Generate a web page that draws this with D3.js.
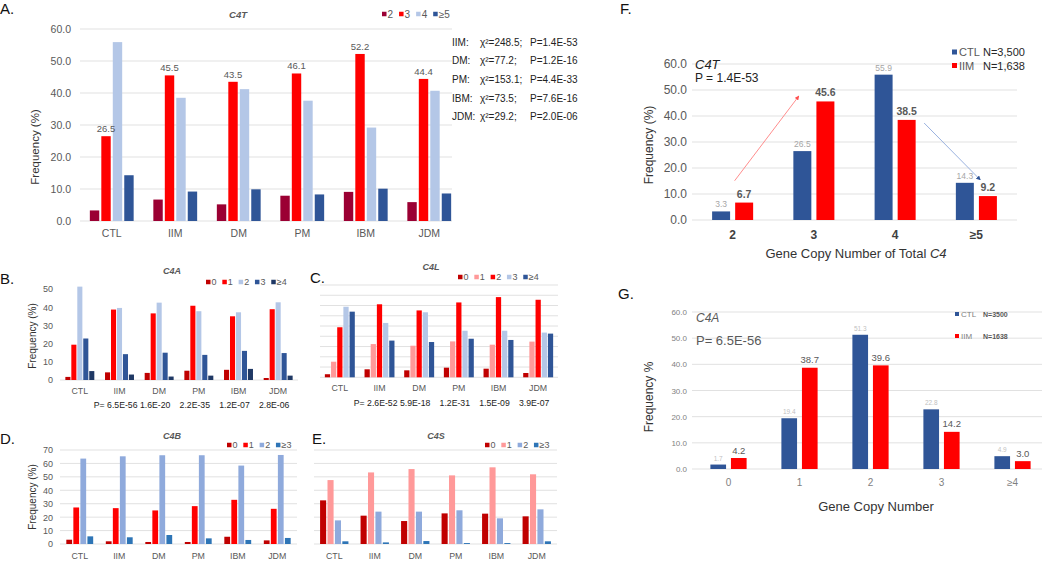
<!DOCTYPE html>
<html><head><meta charset="utf-8">
<script src="https://cdn.jsdelivr.net/npm/d3@7"></script>
<style>body{margin:0;background:#fff}svg{display:block}text{font-family:"Liberation Sans",Arial,sans-serif}</style>
</head><body><svg id="c" width="1050" height="561"></svg>
<script>
// ---------- DATA ----------
const groups = ["CTL","IIM","DM","PM","IBM","JDM"];
// A: C4T
const c4tKeys = ["2","3","4","≥5"];
const c4t2 = [3.3,6.7,5.2,7.9,9.1,5.9];
const c4t3 = [26.5,45.5,43.5,46.1,52.2,44.4];
const c4t4 = [55.9,38.5,41.2,37.6,29.2,40.7];
const c4t5 = [14.3,9.2,9.9,8.3,10.1,8.6];
const c4tTicks = [0,10,20,30,40,50,60];
const chiGroups = ["IIM","DM","PM","IBM","JDM"];
const chiValues = ["248.5","77.2","153.1","73.5","29.2"];
const chiP = ["1.4E-53","1.2E-16","4.4E-33","7.6E-16","2.0E-06"];
// B: C4A
const c4aKeys = ["0","1","2","3","≥4"];
const c4a0 = [1.7,4.2,3.9,5.1,5.6,1.1];
const c4a1 = [19.4,38.7,36.6,40.8,35.0,38.9];
const c4a2 = [51.3,39.6,42.5,37.8,37.2,42.7];
const c4a3 = [22.8,14.2,15.0,13.8,16.0,14.8];
const c4a4 = [4.9,3.0,1.9,2.4,6.1,2.4];
const c4aTicks = [0,10,20,30,40,50];
const c4aP = ["6.5E-56","1.6E-20","2.2E-35","1.2E-07","2.8E-06"];
// C: C4L
const c4lKeys = ["0","1","2","3","≥4"];
const c4l0 = [1.5,3.9,3.4,4.7,4.2,2.1];
const c4l1 = [7.6,16.2,15.4,17.5,15.9,17.4];
const c4l2 = [24.4,35.6,32.6,36.5,39.1,37.8];
const c4l3 = [34.4,26.5,31.7,22.7,22.7,21.8];
const c4l4 = [32.0,17.9,17.2,18.8,18.2,21.3];
const c4lGrid = [0,5,10,15,20,25,30,35,40,45];
const c4lP = ["2.6E-52","5.9E-18","1.2E-31","1.5E-09","3.9E-07"];
// D: C4B
const c4bKeys = ["0","1","2","≥3"];
const c4b0 = [3.2,2.0,1.5,1.5,5.4,2.7];
const c4b1 = [27.2,26.7,25.0,28.2,32.9,26.2];
const c4b2 = [63.6,65.3,66.1,66.1,58.4,66.3];
const c4b3 = [5.7,5.0,6.7,4.2,3.0,4.5];
const c4bTicks = [0,10,20,30,40,50,60,70];
// E: C4S
const c4sKeys = ["0","1","2","≥3"];
const c4s0 = [32.5,21.1,17.1,22.8,22.6,20.6];
const c4s1 = [47.6,53.3,55.8,51.1,57.1,51.9];
const c4s2 = [17.6,24.1,24.1,25.1,19.1,25.8];
const c4s3 = [2.0,1.2,2.2,0.7,0.7,2.0];
// F: total C4, CTL vs IIM
const fCats = ["2","3","4","≥5"];
const fSeries = ["CTL","IIM"];
const fCTL = [3.3,26.5,55.9,14.3];
const fIIM = [6.7,45.6,38.5,9.2];
const fTicks = [0,10,20,30,40,50,60];
// G: C4A, CTL vs IIM
const gCats = ["0","1","2","3","≥4"];
const gCTL = [1.7,19.4,51.3,22.8,4.9];
const gIIM = [4.2,38.7,39.6,14.2,3.0];
const gTicks = [0,10,20,30,40,50,60];

// ---------- DRAW ----------
const svg = d3.select("#c");
const ARIAL = '"Liberation Sans", Arial, sans-serif';
const LATO = 'Lato, "Open Sans", sans-serif';

function txt(x, y, s, o = {}) {
  const t = svg.append("text").attr("x", x).attr("y", y)
    .attr("font-size", o.fs || 10).attr("fill", o.fill || "#595959")
    .attr("font-family", o.font || ARIAL)
    .attr("text-anchor", o.anchor || "start")
    .attr("dominant-baseline", o.base || "central")
    .attr("font-weight", o.weight || "normal")
    .attr("font-style", o.style || "normal");
  if (o.rotate) t.attr("transform", `rotate(-90,${x},${y})`);
  t.text(s);
  return t;
}

function legend(x, y, labels, colors, o = {}) {
  let cx = x;
  const sq = o.sq || 4.5;
  labels.forEach((l, i) => {
    svg.append("rect").attr("x", cx).attr("y", y - sq / 2).attr("width", sq).attr("height", sq).attr("fill", colors[i]);
    const t = txt(cx + sq + (o.g1 || 1), y, l, { fs: o.fs || 10, fill: o.fill || "#595959", font: o.font });
    cx += sq + (o.g1 || 1) + t.node().getComputedTextLength() + (o.g2 || 6);
  });
}

function grouped(o) {
  const g = svg.append("g");
  const x0 = d3.scaleBand().domain(o.cats).range(o.xr).paddingInner(o.gp).paddingOuter(o.gp / 2);
  const x1 = d3.scaleBand().domain(o.keys).range([0, x0.bandwidth()]).paddingInner(o.bp);
  const y = d3.scaleLinear().domain(o.yd).range(o.yr);
  if (o.grid) {
    const gx = o.gx || o.xr;
    g.append("g").selectAll("line").data(o.grid).join("line")
      .attr("x1", gx[0]).attr("x2", gx[1])
      .attr("y1", d => y(d)).attr("y2", d => y(d))
      .attr("stroke", "#d9d9d9").attr("stroke-width", 0.8);
  }
  if (o.ticks) {
    const ax = g.append("g").attr("transform", `translate(${o.tickX},0)`)
      .call(d3.axisLeft(y).tickValues(o.ticks).tickSize(0).tickPadding(0).tickFormat(o.fmt || d3.format("d")));
    ax.select(".domain").remove();
    ax.attr("font-family", o.font || ARIAL).attr("font-size", o.tickFs || 10);
    ax.selectAll("text").attr("fill", o.tickColor || "#595959");
  }
  const xa = g.append("g").attr("transform", `translate(0,${o.catY - 0.35 * o.catFs})`)
    .call(d3.axisBottom(x0).tickSize(0).tickPadding(0));
  xa.select(".domain").remove();
  xa.attr("font-family", o.font || ARIAL).attr("font-size", o.catFs).attr("font-weight", o.catWeight || "normal");
  xa.selectAll("text").attr("fill", o.catColor || "#595959");
  o.series.forEach((vals, k) => {
    g.append("g").attr("fill", o.colors[k]).selectAll("rect").data(vals).join("rect")
      .attr("x", (d, i) => x0(o.cats[i]) + x1(o.keys[k]))
      .attr("y", d => y(d))
      .attr("width", x1.bandwidth())
      .attr("height", d => y(0) - y(d));
  });
  return { g, x0, x1, y };
}

// ===== Panel A =====
const colA = ["#9b0033", "#ff0000", "#b4c7e7", "#2f5597"];
txt(0, 8, "A.", { fs: 15, fill: "#111" });
txt(238, 14, "C4T", { fs: 9.5, weight: "bold", style: "italic", anchor: "middle" });
legend(382, 14, c4tKeys, colA, { fs: 10, sq: 4.5, g1: 1, g2: 6 });
const A = grouped({
  cats: groups, keys: c4tKeys, series: [c4t2, c4t3, c4t4, c4t5], colors: colA,
  xr: [80, 461], gp: 0.31, bp: 0.18, yd: [0, 60], yr: [221, 29],
  grid: c4tTicks, gx: [80, 452], ticks: c4tTicks, tickX: 71, tickFs: 10.5, fmt: d3.format(".1f"),
  catY: 233, catFs: 10.5
});
A.g.append("g").selectAll("text").data(c4t3).join("text")
  .attr("x", (d, i) => A.x0(groups[i]) + A.x1("3") + A.x1.bandwidth() / 2)
  .attr("y", d => A.y(d) - 4)
  .attr("text-anchor", "middle").attr("font-size", 9.5).attr("fill", "#595959").text(d => d.toFixed(1));
txt(35, 147, "Frequency (%)", { fs: 11.5, fill: "#333", anchor: "middle", rotate: true });
chiGroups.forEach((gname, i) => {
  const yy = 42 + i * 18.7;
  txt(452, yy, gname + ":", { fs: 10, fill: "#222" });
  txt(480, yy, "χ²=" + chiValues[i] + ";", { fs: 10, fill: "#222" });
  txt(530, yy, "P=" + chiP[i], { fs: 10, fill: "#222" });
});

// ===== Panel B =====
const colB = ["#c00000", "#ff0000", "#b4c7e7", "#2f5597", "#1f3864"];
txt(0, 278, "B.", { fs: 15, fill: "#111" });
txt(172, 271, "C4A", { fs: 9, weight: "bold", style: "italic", anchor: "middle" });
legend(206, 282, c4aKeys, colB, { fs: 9, sq: 4.5, g1: 1, g2: 5.8 });
const B = grouped({
  cats: groups, keys: c4aKeys, series: [c4a0, c4a1, c4a2, c4a3, c4a4], colors: colB,
  xr: [60, 298], gp: 0.27, bp: 0.15, yd: [0, 50], yr: [380, 289],
  grid: [0], ticks: c4aTicks, tickX: 53, tickFs: 9,
  catY: 391, catFs: 8.8
});
txt(32, 336, "Frequency (%)", { fs: 10, fill: "#333", anchor: "middle", rotate: true });
c4aP.forEach((p, i) => {
  const cx = B.x0(groups[i + 1]) + B.x0.bandwidth() / 2 - 4;
  if (i === 0) txt(cx + 22, 405, "P= " + p, { fs: 8.7, fill: "#222", anchor: "end" });
  else txt(cx, 405, p, { fs: 8.7, fill: "#222", anchor: "middle" });
});

// ===== Panel C =====
const colC = ["#c00000", "#ff9999", "#ff0000", "#b4c7e7", "#2f5597"];
txt(310, 277, "C.", { fs: 15, fill: "#111" });
txt(431, 267, "C4L", { fs: 9, weight: "bold", style: "italic", anchor: "middle" });
legend(458, 277, c4lKeys, colC, { fs: 9, sq: 4.5, g1: 1, g2: 5.8 });
const C = grouped({
  cats: groups, keys: c4lKeys, series: [c4l0, c4l1, c4l2, c4l3, c4l4], colors: colC,
  xr: [320, 558], gp: 0.245, bp: 0.15, yd: [0, 45], yr: [377.3, 285],
  grid: c4lGrid, catY: 388, catFs: 8.8
});
c4lP.forEach((p, i) => {
  const cx = C.x0(groups[i + 1]) + C.x0.bandwidth() / 2 - 4;
  if (i === 0) txt(cx + 22, 403, "P= " + p, { fs: 8.7, fill: "#222", anchor: "end" });
  else txt(cx, 403, p, { fs: 8.7, fill: "#222", anchor: "middle" });
});

// ===== Panel D =====
const colD = ["#c00000", "#ff0000", "#8faadc", "#2e75b6"];
txt(0, 438, "D.", { fs: 15, fill: "#111" });
txt(172, 436, "C4B", { fs: 9, weight: "bold", style: "italic", anchor: "middle" });
legend(227, 445, c4bKeys, colD, { fs: 9, sq: 4.5, g1: 1, g2: 5.8 });
const D = grouped({
  cats: groups, keys: c4bKeys, series: [c4b0, c4b1, c4b2, c4b3], colors: colD,
  xr: [60, 297], gp: 0.32, bp: 0.18, yd: [0, 70], yr: [544, 450],
  grid: c4bTicks, ticks: c4bTicks, tickX: 53, tickFs: 9,
  catY: 556, catFs: 8.8
});
txt(32, 497, "Frequency (%)", { fs: 10, fill: "#333", anchor: "middle", rotate: true });

// ===== Panel E =====
const colE = ["#c00000", "#ff9999", "#8faadc", "#2e75b6"];
txt(312, 438, "E.", { fs: 15, fill: "#111" });
txt(436, 436, "C4S", { fs: 9, weight: "bold", style: "italic", anchor: "middle" });
legend(485, 445, c4sKeys, colE, { fs: 9, sq: 4.5, g1: 1, g2: 5.8 });
const E = grouped({
  cats: groups, keys: c4sKeys, series: [c4s0, c4s1, c4s2, c4s3], colors: colE,
  xr: [314, 557], gp: 0.3, bp: 0.18, yd: [0, 70], yr: [544, 450],
  grid: c4bTicks, catY: 556, catFs: 8.8
});

// ===== Panel F =====
const colF = ["#2f5597", "#ff0000"];
txt(620, 8, "F.", { fs: 15, fill: "#111", font: LATO });
const F = grouped({
  cats: fCats, keys: fSeries, series: [fCTL, fIIM], colors: colF,
  xr: [692, 1017], gp: 0.495, bp: 0.22, yd: [0, 60], yr: [220, 64],
  grid: fTicks, ticks: fTicks, tickX: 687, tickFs: 12, fmt: d3.format(".1f"), font: LATO,
  catY: 235, catFs: 12, catWeight: "bold", catColor: "#404040"
});
F.g.append("g").selectAll("text").data(fCTL).join("text")
  .attr("x", (d, i) => F.x0(fCats[i]) + F.x1("CTL") + F.x1.bandwidth() / 2)
  .attr("y", d => F.y(d) - 4).attr("text-anchor", "middle")
  .attr("font-family", LATO).attr("font-size", 8.5).attr("fill", "#a6a6a6").text(d => d.toFixed(1));
F.g.append("g").selectAll("text").data(fIIM).join("text")
  .attr("x", (d, i) => F.x0(fCats[i]) + F.x1("IIM") + F.x1.bandwidth() / 2)
  .attr("y", d => F.y(d) - 5).attr("text-anchor", "middle")
  .attr("font-family", LATO).attr("font-size", 10.5).attr("font-weight", "bold").attr("fill", "#595959").text(d => d.toFixed(1));
txt(695, 64, "C4T", { fs: 13, fill: "#222", style: "italic", font: LATO });
txt(695, 78, "P = 1.4E-53", { fs: 12, fill: "#222", font: LATO });
txt(649, 145, "Frequency (%)", { fs: 12, fill: "#333", anchor: "middle", rotate: true, font: LATO });
const fTitle = txt(856, 253, "", { fs: 13, fill: "#333", anchor: "middle", font: LATO });
fTitle.append("tspan").text("Gene Copy Number of Total ");
fTitle.append("tspan").attr("font-style", "italic").text("C4");
// legend F
[["CTL", "N=3,500"], ["IIM", "N=1,638"]].forEach((r, i) => {
  const yy = 52 + i * 13.5;
  svg.append("rect").attr("x", 952).attr("y", yy - 2.5).attr("width", 5).attr("height", 5).attr("fill", colF[i]);
  txt(959, yy, r[0], { fs: 11, fill: "#595959", font: LATO });
  txt(983, yy, r[1], { fs: 11, fill: "#262626", font: LATO });
});
// arrows
const defs = svg.append("defs");
[["ar", "#ff4d4d"], ["ab", "#2f5597"]].forEach(([id, c]) => {
  defs.append("marker").attr("id", id).attr("viewBox", "0 0 10 10").attr("refX", 9).attr("refY", 5)
    .attr("markerWidth", 5).attr("markerHeight", 5).attr("orient", "auto")
    .append("path").attr("d", "M0,0L10,5L0,10z").attr("fill", c);
});
const fArrows = [
  { from: ["2", 15.1, 2], to: ["3", 47.7, -15], color: "#ff8080", m: "ar" },
  { from: ["4", 37.3, 29], to: ["≥5", 15.4, 4], color: "#8ea9db", m: "ab" }
];
fArrows.forEach(a => {
  const cx = k => F.x0(k) + F.x0.bandwidth() / 2;
  svg.append("line")
    .attr("x1", cx(a.from[0]) + a.from[2]).attr("y1", F.y(a.from[1]))
    .attr("x2", cx(a.to[0]) + a.to[2]).attr("y2", F.y(a.to[1]))
    .attr("stroke", a.color).attr("stroke-width", 0.9).attr("marker-end", `url(#${a.m})`);
});

// ===== Panel G =====
txt(618, 293, "G.", { fs: 15, fill: "#111", font: LATO });
const G = grouped({
  cats: gCats, keys: fSeries, series: [gCTL, gIIM], colors: colF,
  xr: [693, 1048], gp: 0.49, bp: 0.238, yd: [0, 60], yr: [469, 312],
  grid: gTicks, gx: [692, 1042], ticks: gTicks, tickX: 687, tickFs: 8, tickColor: "#7f7f7f", fmt: d3.format(".1f"), font: LATO,
  catY: 482, catFs: 10, catColor: "#7f7f7f"
});
G.g.append("g").selectAll("text").data(gCTL).join("text")
  .attr("x", (d, i) => G.x0(gCats[i]) + G.x1("CTL") + G.x1.bandwidth() / 2)
  .attr("y", d => G.y(d) - 4).attr("text-anchor", "middle")
  .attr("font-family", LATO).attr("font-size", 6.5).attr("fill", "#bfbfbf").text(d => d.toFixed(1));
G.g.append("g").selectAll("text").data(gIIM).join("text")
  .attr("x", (d, i) => G.x0(gCats[i]) + G.x1("IIM") + G.x1.bandwidth() / 2)
  .attr("y", d => G.y(d) - 4.5).attr("text-anchor", "middle")
  .attr("font-family", LATO).attr("font-size", 9.5).attr("fill", "#595959").text(d => d.toFixed(1));
txt(696, 318, "C4A", { fs: 12, fill: "#595959", style: "italic", font: LATO });
txt(696, 340, "P= 6.5E-56", { fs: 13, fill: "#595959", font: LATO });
txt(649, 397, "Frequency %", { fs: 12, fill: "#333", anchor: "middle", rotate: true, font: LATO });
txt(876, 506, "Gene Copy Number", { fs: 13, fill: "#333", anchor: "middle", font: LATO });
[["CTL", "N=3500"], ["IIM", "N=1638"]].forEach((r, i) => {
  const yy = 314 + i * 22;
  svg.append("rect").attr("x", 955).attr("y", yy - 2).attr("width", 4).attr("height", 4).attr("fill", colF[i]);
  txt(961, yy, r[0], { fs: 8, fill: "#7f7f7f", font: LATO });
  txt(983, yy, r[1], { fs: 7, fill: "#595959", font: LATO, weight: "bold" });
});
</script></body></html>
